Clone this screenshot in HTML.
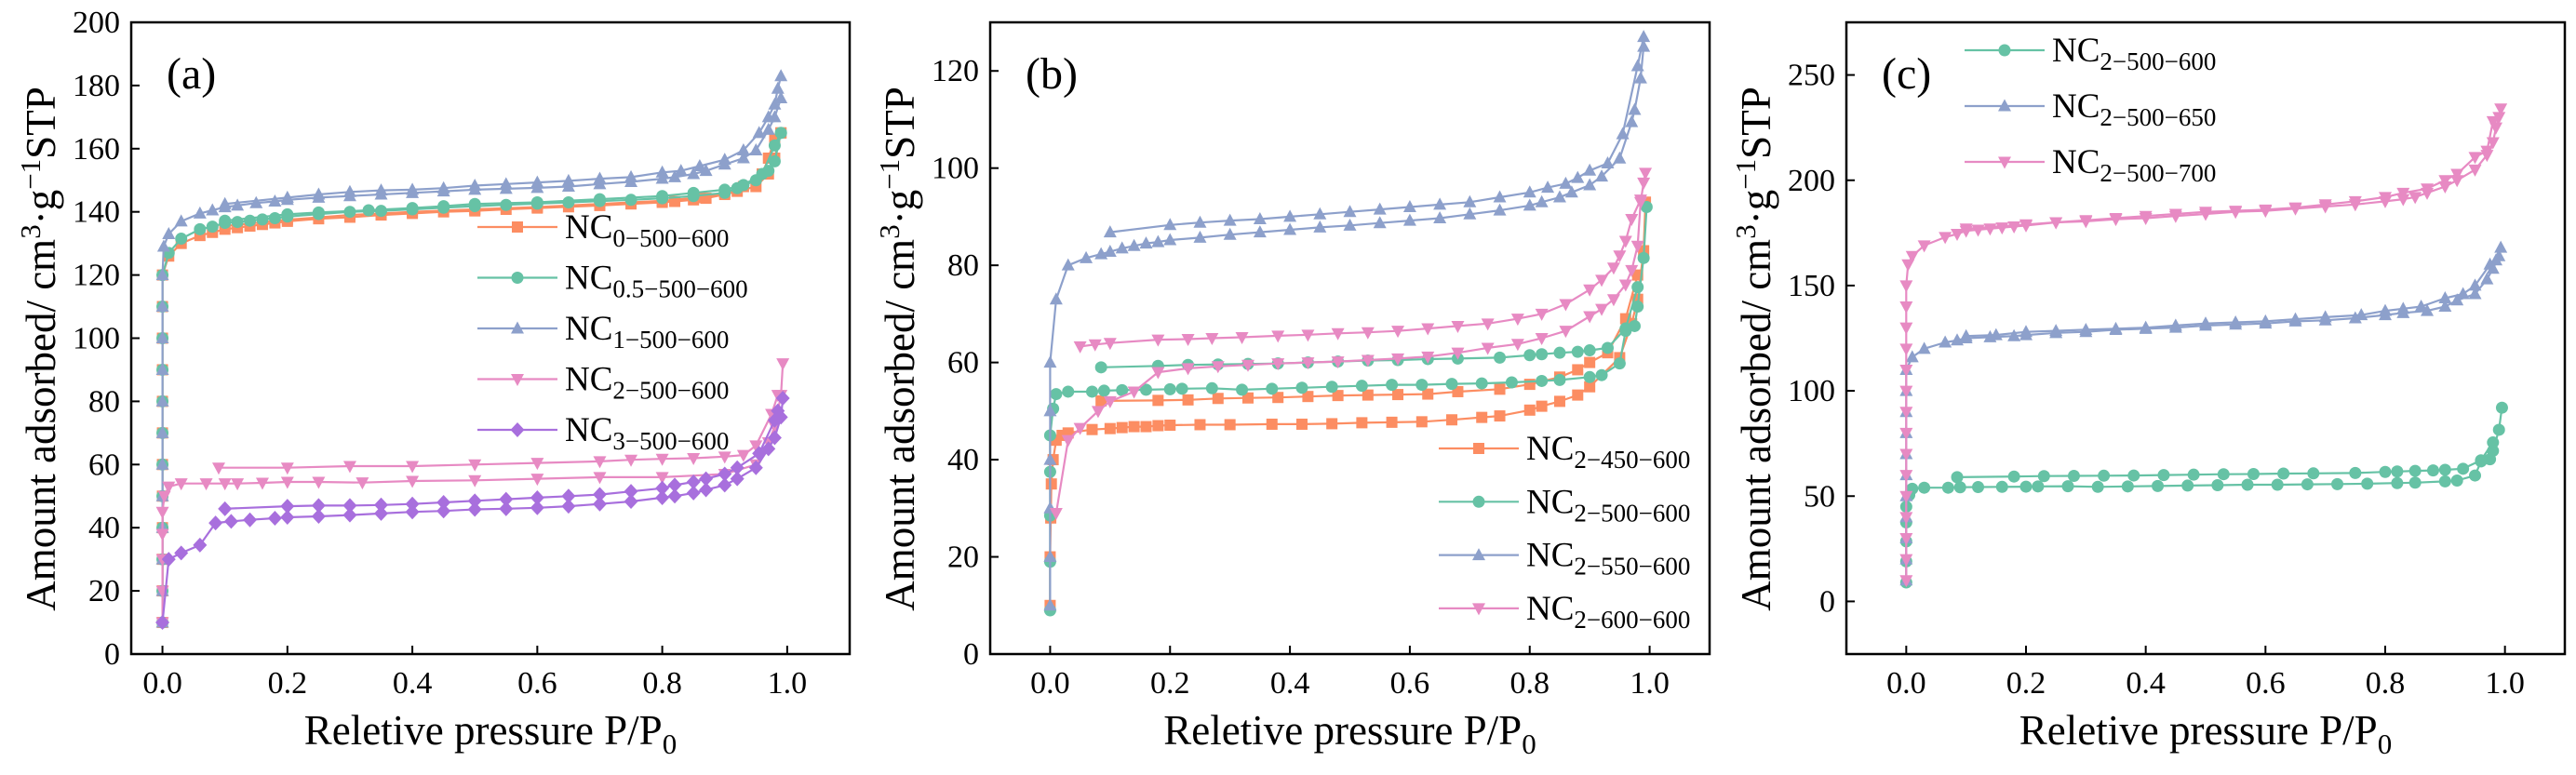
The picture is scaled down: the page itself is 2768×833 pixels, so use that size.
<!DOCTYPE html>
<html><head><meta charset="utf-8">
<style>
html,body{margin:0;padding:0;background:#fff;}
svg, svg text, svg tspan{font-family:"Liberation Serif","Times New Roman","DejaVu Serif",serif !important;}
</style></head>
<body>
<svg id="chart" width="2768" height="828" viewBox="0 0 2768 828" xmlns="http://www.w3.org/2000/svg" font-family="'Liberation Serif', serif"></svg>
<script>
// ---------- Data: panel (a) ----------
const xTicks = [0.0, 0.2, 0.4, 0.6, 0.8, 1.0];
const xTickLabels = ["0.0","0.2","0.4","0.6","0.8","1.0"];
const aYTicks = [0,20,40,60,80,100,120,140,160,180,200];
const bYTicks = [0,20,40,60,80,100,120];
const cYTicks = [0,50,100,150,200,250];

const A_NC0_ADS = [[0,10],[0,20],[0,30],[0,40],[0,50],[0,60],[0,70],[0,80],[0,90],[0,100],[0,110],[0,120],[0.01,126],[0.03,130],[0.06,132.5],[0.08,133.5],[0.1,134.5],[0.12,135],[0.14,135.5],[0.16,136],[0.18,136.5],[0.2,137],[0.25,137.8],[0.3,138.3],[0.35,139],[0.4,139.5],[0.45,140],[0.5,140.3],[0.55,140.8],[0.6,141.2],[0.65,141.6],[0.7,142],[0.75,142.5],[0.8,143],[0.82,143.3],[0.85,143.8],[0.87,144.3],[0.9,145.5],[0.92,146.5],[0.95,148],[0.97,152],[0.98,157],[0.99,165]];
const A_NC0_DES = [[0.99,165],[0.98,163],[0.97,157],[0.96,152],[0.93,148],[0.9,146],[0.86,144.5],[0.8,143.5],[0.7,142.5],[0.6,141.5],[0.5,140.8],[0.4,140],[0.3,139],[0.2,137.5],[0.1,135.5]];
const A_NC05_ADS = [[0,10],[0,20],[0,30],[0,40],[0,50],[0,60],[0,70],[0,80],[0,90],[0,100],[0,110],[0,120],[0.01,127],[0.03,131.5],[0.06,134.5],[0.08,135.3],[0.1,136.5],[0.12,136.8],[0.14,137.2],[0.16,137.6],[0.18,138],[0.2,138.5],[0.25,139.3],[0.3,140],[0.35,140.3],[0.4,140.8],[0.45,141.3],[0.5,141.8],[0.55,142.2],[0.6,142.6],[0.65,143],[0.7,143.4],[0.75,143.8],[0.8,144.3],[0.85,145],[0.9,146],[0.92,147.5],[0.95,150],[0.97,153],[0.98,156],[0.99,165]];
const A_NC05_DES = [[0.99,165],[0.98,161],[0.96,152],[0.93,148.5],[0.9,147],[0.85,146],[0.8,145],[0.7,144],[0.6,143],[0.5,142.5],[0.45,141.8],[0.4,141.2],[0.33,140.5],[0.25,139.8],[0.2,139.2],[0.1,137.2]];
const A_NC1_ADS = [[0,10],[0,20],[0,30],[0,40],[0,50],[0,60],[0,70],[0,80],[0,90],[0,100],[0,110],[0,120],[0.002,129],[0.01,133],[0.03,137],[0.06,139.5],[0.08,140.5],[0.1,141.5],[0.12,142],[0.15,142.8],[0.18,143.3],[0.2,143.8],[0.25,144.5],[0.3,145],[0.35,145.5],[0.4,146],[0.45,146.5],[0.5,147],[0.55,147.3],[0.6,147.6],[0.65,148],[0.7,148.8],[0.75,149.5],[0.8,150.5],[0.82,151],[0.85,152],[0.87,153],[0.9,155],[0.93,157],[0.95,159.5],[0.97,166],[0.98,170],[0.99,176]];
const A_NC1_DES = [[0.99,183],[0.985,179],[0.98,174],[0.97,170],[0.955,165],[0.93,159.5],[0.9,156.5],[0.86,154.5],[0.83,153],[0.8,152.5],[0.75,151],[0.7,150.5],[0.65,149.8],[0.6,149.3],[0.55,148.8],[0.5,148.3],[0.45,147.5],[0.4,147],[0.35,146.8],[0.3,146.3],[0.25,145.5],[0.2,144.5],[0.1,142.5]];
const A_NC2_ADS = [[0,10],[0,20],[0,30],[0,38],[0,45],[0.003,50],[0.01,53],[0.03,54],[0.07,54],[0.1,54],[0.12,54],[0.16,54.2],[0.2,54.5],[0.25,54.5],[0.32,54.3],[0.4,54.8],[0.5,55],[0.6,55.5],[0.7,56],[0.8,56],[0.9,57],[0.95,60],[0.97,67],[0.98,72],[0.99,82],[0.993,92]];
const A_NC2_DES = [[0.985,82],[0.975,76],[0.95,66],[0.93,63],[0.9,62.5],[0.85,62],[0.8,61.8],[0.75,61.5],[0.7,61],[0.6,60.5],[0.5,60],[0.4,59.5],[0.3,59.5],[0.2,59],[0.09,59]];
const A_NC3_ADS = [[0,10],[0.01,30],[0.03,32],[0.06,34.5],[0.085,41.5],[0.11,42],[0.14,42.5],[0.18,43],[0.2,43.3],[0.25,43.6],[0.3,44],[0.35,44.5],[0.4,45],[0.45,45.3],[0.5,45.8],[0.55,46],[0.6,46.3],[0.65,46.8],[0.7,47.5],[0.75,48.3],[0.8,49.5],[0.82,50],[0.85,51],[0.87,52],[0.9,53.5],[0.92,55.5],[0.95,59],[0.97,65],[0.98,68.5],[0.99,75],[0.993,81]];
const A_NC3_DES = [[0.985,77],[0.98,74],[0.955,63.5],[0.92,59],[0.9,57],[0.87,55.5],[0.85,54.5],[0.82,53.5],[0.8,52.5],[0.75,51.5],[0.7,50.5],[0.65,50],[0.6,49.5],[0.55,49],[0.5,48.5],[0.45,48],[0.4,47.5],[0.35,47.2],[0.3,47],[0.25,47],[0.2,46.8],[0.1,46]];

// ---------- Data: panel (b) ----------
const B_450_ADS = [[0,10],[0,20],[0.001,28],[0.002,35],[0.005,40],[0.01,44],[0.02,45],[0.03,45.5],[0.07,46.2],[0.1,46.4],[0.12,46.6],[0.14,46.8],[0.16,46.8],[0.18,47],[0.2,47.1],[0.25,47.2],[0.3,47.2],[0.37,47.3],[0.42,47.3],[0.47,47.4],[0.52,47.6],[0.57,47.7],[0.62,47.8],[0.67,48.2],[0.72,48.7],[0.75,49],[0.8,50.2],[0.82,51],[0.85,52],[0.88,53.3],[0.9,55],[0.95,61],[0.97,68],[0.98,73],[0.99,83],[0.993,93]];
const B_450_DES = [[0.98,78],[0.96,69],[0.93,62],[0.9,60],[0.88,58.5],[0.85,57],[0.8,55.5],[0.75,54.5],[0.68,54],[0.63,53.5],[0.58,53.4],[0.53,53.3],[0.48,53.2],[0.43,53],[0.38,52.8],[0.33,52.7],[0.28,52.6],[0.23,52.3],[0.18,52.2],[0.085,52.1]];
const G500_ADS = [[0,9],[0,19],[0,28.5],[0,37.5],[0,45],[0.005,50.5],[0.01,53.5],[0.03,54],[0.07,54],[0.09,54.2],[0.12,54.3],[0.16,54.4],[0.2,54.5],[0.22,54.6],[0.27,54.7],[0.32,54.4],[0.37,54.6],[0.42,54.8],[0.47,55],[0.52,55.2],[0.57,55.4],[0.62,55.4],[0.67,55.6],[0.72,55.7],[0.77,55.9],[0.82,56.2],[0.85,56.4],[0.9,57],[0.92,57.4],[0.95,59.8],[0.96,66.5],[0.975,67.5],[0.98,71.5],[0.99,81.5],[0.995,92]];
const G500_DES = [[0.98,75.5],[0.96,67],[0.93,63],[0.9,62.5],[0.88,62.2],[0.85,62],[0.82,61.7],[0.8,61.5],[0.75,61],[0.68,60.8],[0.63,60.7],[0.58,60.5],[0.53,60.4],[0.48,60.2],[0.43,60],[0.38,59.8],[0.33,59.7],[0.28,59.6],[0.23,59.5],[0.18,59.3],[0.085,59]];
const B_550_ADS = [[0,10],[0,20],[0,30],[0,40],[0,50],[0,60],[0.01,73],[0.03,80],[0.06,81.5],[0.085,82.3],[0.1,82.8],[0.12,83.5],[0.14,84],[0.16,84.5],[0.18,84.8],[0.2,85.2],[0.25,85.7],[0.3,86.3],[0.35,86.8],[0.4,87.3],[0.45,87.8],[0.5,88.2],[0.55,88.7],[0.6,89.2],[0.65,89.7],[0.7,90.5],[0.75,91.3],[0.8,92.3],[0.82,93],[0.85,94],[0.87,95],[0.9,96.5],[0.92,98.3],[0.95,102],[0.97,109.5],[0.975,112],[0.985,118.5],[0.99,125]];
const B_550_DES = [[0.99,127],[0.98,121],[0.955,107],[0.93,101],[0.9,99.5],[0.88,98],[0.86,96.8],[0.83,96],[0.8,95],[0.75,94],[0.7,93],[0.65,92.5],[0.6,92],[0.55,91.5],[0.5,91],[0.45,90.5],[0.4,90],[0.35,89.5],[0.3,89.2],[0.25,88.8],[0.2,88.3],[0.1,86.8]];
const B_600_ADS = [[0.01,29],[0.03,44],[0.05,46.5],[0.08,50],[0.1,52],[0.14,54],[0.18,58],[0.23,58.8],[0.28,59.2],[0.33,59.5],[0.38,59.8],[0.43,60],[0.48,60.2],[0.53,60.5],[0.58,60.8],[0.63,61.2],[0.68,62],[0.73,63],[0.78,63.8],[0.82,65],[0.86,66.5],[0.9,69.5],[0.92,71],[0.94,73],[0.96,76],[0.97,79],[0.98,84],[0.985,93],[0.99,97],[0.993,99]];
const B_600_DES = [[0.985,93.5],[0.97,89.5],[0.96,85],[0.95,82],[0.94,79.5],[0.92,77],[0.9,75],[0.86,72],[0.82,70],[0.78,69],[0.73,68],[0.68,67.5],[0.63,67],[0.58,66.5],[0.53,66.2],[0.48,66],[0.43,65.7],[0.38,65.5],[0.32,65.2],[0.27,65],[0.23,64.8],[0.18,64.7],[0.1,64],[0.075,63.7],[0.05,63.3]];

// ---------- Data: panel (c) ----------
const C_650_ADS = [[0,10],[0,20],[0,30],[0,40],[0,50],[0,60],[0,70],[0,80],[0,90],[0,100],[0,110],[0.01,116],[0.03,120],[0.065,123],[0.085,124],[0.1,125],[0.14,125.5],[0.18,126],[0.2,126.5],[0.25,127.5],[0.3,128],[0.35,129],[0.4,129.5],[0.45,130],[0.5,131],[0.55,131.5],[0.6,132],[0.65,133],[0.7,133.5],[0.75,134.5],[0.8,136],[0.83,137],[0.87,138],[0.9,140],[0.92,143],[0.95,146],[0.97,153],[0.98,158],[0.99,164],[0.993,168]];
const C_650_DES = [[0.985,162],[0.975,160],[0.95,150],[0.93,146],[0.9,144],[0.86,140],[0.83,139],[0.8,138],[0.76,136],[0.7,135],[0.65,134],[0.6,133],[0.55,132.5],[0.5,132],[0.45,131],[0.4,130],[0.35,129.5],[0.3,129],[0.25,128.5],[0.2,128],[0.15,126.5],[0.1,126]];
const C_700_ADS = [[0,10],[0,20],[0,30],[0,40],[0,50],[0,60],[0,70],[0,80],[0,90],[0,100],[0,110],[0,120],[0,130],[0,140],[0,150],[0.003,160],[0.01,164],[0.03,169],[0.065,173],[0.085,174.5],[0.1,176],[0.12,176.5],[0.14,177],[0.16,177.5],[0.18,178],[0.2,178.5],[0.25,180],[0.3,180.5],[0.35,181.5],[0.4,182],[0.45,183],[0.5,184],[0.55,185],[0.6,185.5],[0.65,186.5],[0.7,187.5],[0.75,188.5],[0.8,190],[0.83,191],[0.85,192],[0.87,194],[0.9,197],[0.92,200],[0.95,205],[0.97,212],[0.98,218],[0.985,225],[0.99,230],[0.993,234]];
const C_700_DES = [[0.98,228],[0.97,214],[0.95,211],[0.92,203],[0.9,200],[0.87,196],[0.83,194],[0.8,192],[0.75,190],[0.7,188.5],[0.65,187],[0.6,186],[0.55,185.5],[0.5,185],[0.45,184],[0.4,183],[0.35,182],[0.3,181],[0.25,180],[0.2,179],[0.1,177]];

const COL = {orange:"#FC8D62", green:"#66C2A5", blue:"#8DA0CB", pink:"#E78AC3", purple:"#A86FDD"};
const NS = "http://www.w3.org/2000/svg";
const FONT = "Liberation Serif, Times New Roman, serif";
const svg = document.getElementById("chart");

function mk(tag, attrs, parent){
  const e = document.createElementNS(NS, tag);
  for (const k in attrs) e.setAttribute(k, attrs[k]);
  if (tag === "text") e.setAttribute("font-family", FONT);
  (parent||svg).appendChild(e);
  return e;
}

function marker(g, shape, cx, cy, color){
  const s = 6.5;
  let el;
  if (shape==="square") el = mk("rect",{x:cx-s+0.5,y:cy-s+0.5,width:2*s-1,height:2*s-1,fill:color},g);
  else if (shape==="circle") el = mk("circle",{cx:cx,cy:cy,r:s,fill:color},g);
  else if (shape==="up") el = mk("polygon",{points:`${cx},${cy-s-1} ${cx+s+0.5},${cy+s-1} ${cx-s-0.5},${cy+s-1}`,fill:color},g);
  else if (shape==="down") el = mk("polygon",{points:`${cx},${cy+s+1} ${cx+s+0.5},${cy-s+1} ${cx-s-0.5},${cy-s+1}`,fill:color},g);
  else el = mk("polygon",{points:`${cx},${cy-s-1.5} ${cx+s+1},${cy} ${cx},${cy+s+1.5} ${cx-s-1},${cy}`,fill:color},g);
  
  
}

function drawPanel(p){
  const g = mk("g",{});
  
  
  const sx = v => p.L + (v - p.xmin)/(p.xmax - p.xmin)*(p.R - p.L);
  const sy = v => p.B - (v - p.ymin)/(p.ymax - p.ymin)*(p.B - p.T);

  p.series.forEach(s=>{
    const sg = mk("g",{},g);
    
    
    [s.ads, s.des].forEach((arr,i)=>{
      const pl = mk("polyline",{points:arr.map(d=>sx(d[0]).toFixed(1)+","+sy(d[1]).toFixed(1)).join(" "),fill:"none",stroke:s.color,"stroke-width":2.2,"stroke-linejoin":"round"},sg);
      
      
    });
    [s.ads, s.des].forEach(arr=>arr.forEach(d=>marker(sg, s.shape, sx(d[0]), sy(d[1]), s.color)));
  });

  const fr = mk("rect",{x:p.L,y:p.T,width:p.R-p.L,height:p.B-p.T,fill:"none",stroke:"#000","stroke-width":2.5},g);
  
  

  xTicks.forEach((t,i)=>{
    const x = sx(t);
    const tk = mk("line",{x1:x,y1:p.B,x2:x,y2:p.B-9,stroke:"#000","stroke-width":2},g);
    
    
    const lb = mk("text",{x:x,y:p.B+42,"text-anchor":"middle","font-size":34,fill:"#000"},g);
    lb.textContent = xTickLabels[i];
    
    
  });
  p.yTicks.forEach(t=>{
    const y = sy(t);
    const tk = mk("line",{x1:p.L,y1:y,x2:p.L+9,y2:y,stroke:"#000","stroke-width":2},g);
    
    
    const lb = mk("text",{x:p.L-12,y:y+11,"text-anchor":"end","font-size":34,fill:"#000"},g);
    lb.textContent = String(t);
    
    
  });

  const xt = mk("text",{x:(p.L+p.R)/2,y:800,"text-anchor":"middle","font-size":45,fill:"#000"},g);
  xt.innerHTML = 'Reletive pressure P/P<tspan dy="10" font-size="31">0</tspan>';
  
  

  const cy = 375, bx = p.L - 82;
  const yt = mk("text",{x:0,y:0,"text-anchor":"middle","font-size":45,fill:"#000",transform:`translate(${bx},${cy}) rotate(-90)`},g);
  yt.innerHTML = 'Amount adsorbed/ cm<tspan dy="-16" font-size="31">3</tspan><tspan dy="16">·g</tspan><tspan dy="-16" font-size="31">−1</tspan><tspan dy="16">STP</tspan>';
  
  

  const pl = mk("text",{x:p.L+38,y:95,"font-size":48,fill:"#000"},g);
  pl.textContent = p.label;
  
  

  p.series.forEach((s,i)=>{
    const y = p.legY + i*p.legDy;
    const lg = mk("g",{},g);
    
    
    mk("line",{x1:p.legX,y1:y,x2:p.legX+86,y2:y,stroke:s.color,"stroke-width":2.2},lg);
    marker(lg, s.shape, p.legX+43, y, s.color);
    const tx = mk("text",{x:p.legX+94,y:y+12,"font-size":37,fill:"#000"},lg);
    tx.innerHTML = 'NC<tspan dy="9" font-size="27">' + s.sub + '</tspan>';
  });
}

drawPanel({name:"panel-a", label:"(a)", L:141, R:913, T:24, B:703, xmin:-0.05, xmax:1.1, ymin:0, ymax:200, yTicks:aYTicks,
  legX:513, legY:244, legDy:54.5,
  series:[
    {id:"nc0",sub:"0−500−600",color:COL.orange,shape:"square",ads:A_NC0_ADS,des:A_NC0_DES},
    {id:"nc05",sub:"0.5−500−600",color:COL.green,shape:"circle",ads:A_NC05_ADS,des:A_NC05_DES},
    {id:"nc1",sub:"1−500−600",color:COL.blue,shape:"up",ads:A_NC1_ADS,des:A_NC1_DES},
    {id:"nc2",sub:"2−500−600",color:COL.pink,shape:"down",ads:A_NC2_ADS,des:A_NC2_DES},
    {id:"nc3",sub:"3−500−600",color:COL.purple,shape:"diamond",ads:A_NC3_ADS,des:A_NC3_DES}
  ]});

drawPanel({name:"panel-b", label:"(b)", L:1064, R:1837, T:24, B:703, xmin:-0.1, xmax:1.1, ymin:0, ymax:130, yTicks:bYTicks,
  legX:1546, legY:482, legDy:57.3,
  series:[
    {id:"nc2-450",sub:"2−450−600",color:COL.orange,shape:"square",ads:B_450_ADS,des:B_450_DES},
    {id:"nc2-500",sub:"2−500−600",color:COL.green,shape:"circle",ads:G500_ADS,des:G500_DES},
    {id:"nc2-550",sub:"2−550−600",color:COL.blue,shape:"up",ads:B_550_ADS,des:B_550_DES},
    {id:"nc2-600",sub:"2−600−600",color:COL.pink,shape:"down",ads:B_600_ADS,des:B_600_DES}
  ]});

drawPanel({name:"panel-c", label:"(c)", L:1984, R:2756, T:24, B:703, xmin:-0.1, xmax:1.1, ymin:-25, ymax:275, yTicks:cYTicks,
  legX:2111, legY:54, legDy:60,
  series:[
    {id:"nc2-500-600",sub:"2−500−600",color:COL.green,shape:"circle",ads:G500_ADS,des:G500_DES},
    {id:"nc2-500-650",sub:"2−500−650",color:COL.blue,shape:"up",ads:C_650_ADS,des:C_650_DES},
    {id:"nc2-500-700",sub:"2−500−700",color:COL.pink,shape:"down",ads:C_700_ADS,des:C_700_DES}
  ]});
</script>
</body></html>
